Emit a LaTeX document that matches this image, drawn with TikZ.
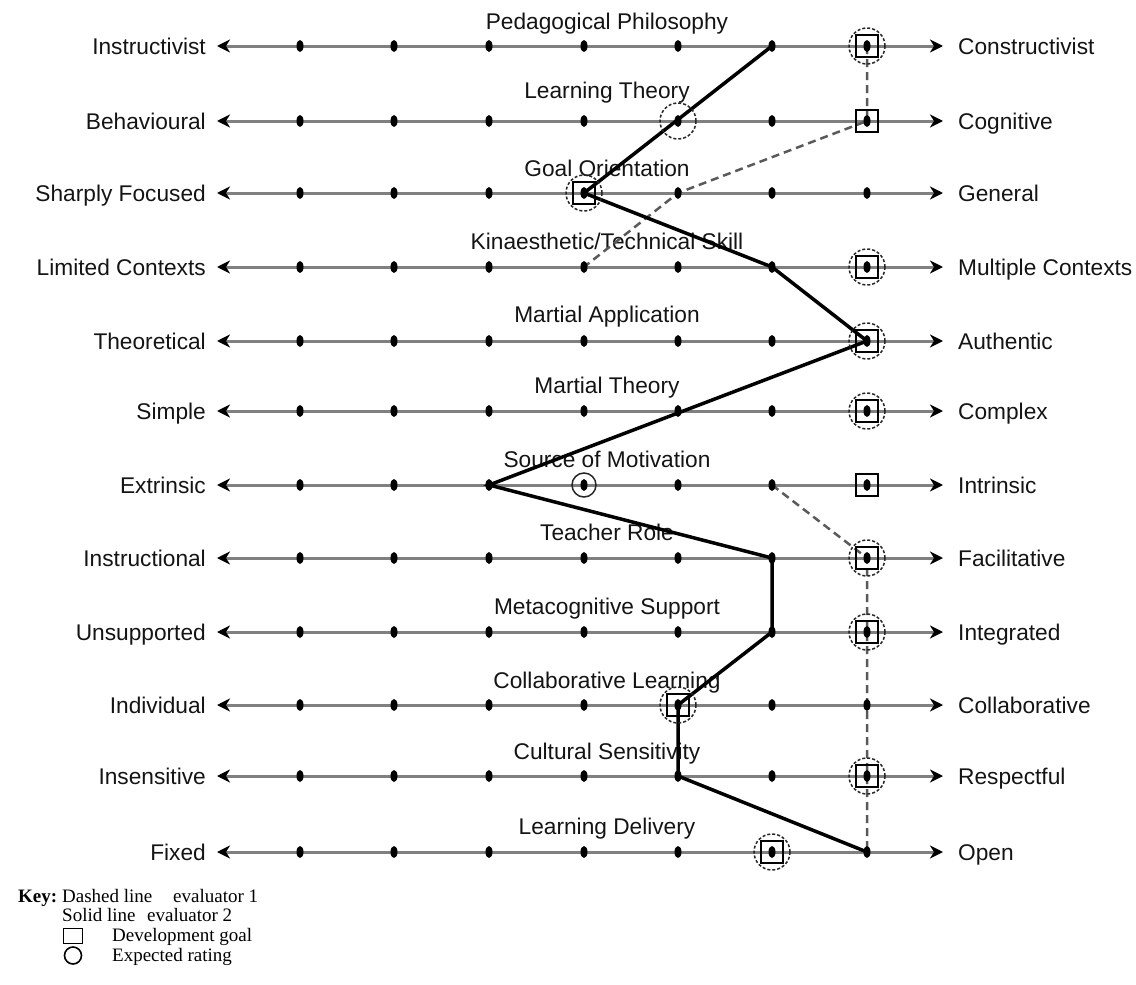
\documentclass[tikz,border=0pt]{standalone}
\usepackage{fontspec}
\setmainfont{Liberation Sans}
\newfontfamily\keyfont{Liberation Serif}
\usetikzlibrary{arrows.meta,shapes.geometric}
\definecolor{axisgray}{RGB}{128,128,128}
\definecolor{dashgray}{RGB}{90,90,90}
\definecolor{inkgray}{RGB}{20,20,20}

% One rating scale: index, y, left pole, right pole, title, title y
\newcommand\ratingrow[6]{%
  \coordinate (L#1) at (217,#2);
  \coordinate (R#1) at (943,#2);
  \draw[axisline] (L#1) -- (R#1);
  \node[pole, anchor=east] (left#1) at (206,#2) {#3};
  \node[pole, anchor=west] (right#1) at (958,#2) {#4};
  \node[pole] (title#1) at (607,#6) {#5};
  \foreach \c/\x in {1/300,2/394,3/489,4/584,5/678,6/772,7/867}
    {\coordinate (p#1-\c) at (\x,#2);}
}

\begin{document}
\begin{tikzpicture}[x=1pt,y=-1pt,
  axisline/.style={draw=axisgray, line width=3pt,
    {Stealth[length=13pt,width=13pt,inset=4pt,color=black]}-{Stealth[length=13pt,width=13pt,inset=4pt,color=black]}},
  pole/.style={font=\fontsize{22.7}{26}\selectfont, text=inkgray,
    text height=16pt, text depth=0pt, inner sep=0pt},
  tick/.style={ellipse, fill=black, minimum width=7pt, minimum height=12pt, inner sep=0pt},
  goal/.style={rectangle, draw=black, line width=1.8pt, minimum size=22pt, inner sep=0pt},
  expected/.style={circle, draw=black!85, line width=1.5pt, dash pattern=on 3pt off 2pt,
    minimum size=36pt, inner sep=0pt},
  smallexpected/.style={circle, draw=black!85, line width=1.5pt, minimum size=24pt, inner sep=0pt},
  evalone/.style={draw=dashgray, line width=2.5pt, dash pattern=on 8pt off 5pt},
  evaltwo/.style={draw=black, line width=3.5pt, line join=miter},
  keytext/.style={font=\keyfont\fontsize{19}{21}\selectfont, text=black, inner sep=0pt, anchor=base west},
]
\useasboundingbox (0,0) rectangle (1136,985);

% the twelve scales
\ratingrow{1}{46}{Instructivist}{Constructivist}{Pedagogical Philosophy}{21}
\ratingrow{2}{121}{Behavioural}{Cognitive}{Learning Theory}{90}
\ratingrow{3}{193}{Sharply Focused}{General}{Goal Orientation}{168}
\ratingrow{4}{267}{Limited Contexts}{Multiple Contexts}{Kinaesthetic/Technical Skill}{241}
\ratingrow{5}{341}{Theoretical}{Authentic}{Martial Application}{314}
\ratingrow{6}{411}{Simple}{Complex}{Martial Theory}{385}
\ratingrow{7}{485}{Extrinsic}{Intrinsic}{Source of Motivation}{459}
\ratingrow{8}{558}{Instructional}{Facilitative}{Teacher Role}{532}
\ratingrow{9}{632}{Unsupported}{Integrated}{Metacognitive Support}{606}
\ratingrow{10}{705}{Individual}{Collaborative}{Collaborative Learning}{680}
\ratingrow{11}{776}{Insensitive}{Respectful}{Cultural Sensitivity}{751}
\ratingrow{12}{852}{Fixed}{Open}{Learning Delivery}{826}

% evaluator 1 (dashed)
\draw[evalone] (p1-7) -- (p2-7) -- (p3-5) -- (p4-4);
\draw[evalone] (p7-6) -- (p8-7) -- (p9-7) -- (p10-7) -- (p11-7) -- (p12-7);

% evaluator 2 (solid)
\draw[evaltwo] (p1-6) -- (p3-4) -- (p4-6) -- (p5-7) -- (p7-3) -- (p8-6)
  -- (p9-6) -- (p10-5) -- (p11-5) -- (p12-7);

% scale points
\foreach \i in {1,...,12}
  \foreach \c in {1,...,7}
    {\node[tick] (d\i-\c) at (p\i-\c) {};}

% development goals
\foreach \i/\c in {1/7,2/7,3/4,4/7,5/7,6/7,7/7,8/7,9/7,10/5,11/7,12/6}
  {\node[goal] (g\i-\c) at (p\i-\c) {};}

% expected ratings
\foreach \i/\c in {1/7,2/5,3/4,4/7,5/7,6/7,8/7,9/7,10/5,11/7,12/6}
  {\node[expected] (e\i-\c) at (p\i-\c) {};}
\node[smallexpected] (e7-4) at (p7-4) {};

% key
\node[keytext] (keyhead) at (18,902) {\bfseries Key:};
\node[keytext] (keydash) at (62,902) {Dashed line};
\node[keytext] (keydashval) at (173,902) {evaluator 1};
\node[keytext] (keysolid) at (62,921) {Solid line};
\node[keytext] (keysolidval) at (147,921) {evaluator 2};
\node[rectangle, draw=black, line width=1.6pt, minimum width=19pt, minimum height=15pt, inner sep=0pt] (keygoal) at (73,936) {};
\node[keytext] (keygoaltext) at (112,941) {Development goal};
\node[circle, draw=black, line width=1.6pt, minimum size=17pt, inner sep=0pt] (keyexp) at (73,955.5) {};
\node[keytext] (keyexptext) at (112,961) {Expected rating};
\end{tikzpicture}
\end{document}
